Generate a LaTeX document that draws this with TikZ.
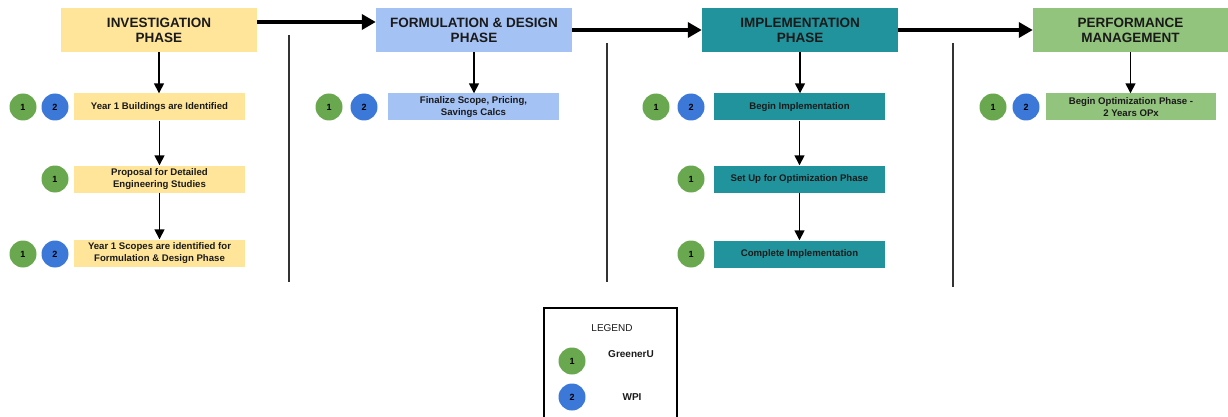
\documentclass[tikz,border=0pt]{standalone}
\usepackage{fontspec}
\setmainfont{Liberation Sans}
\usetikzlibrary{arrows.meta,positioning}
\definecolor{invY}{HTML}{FFE599}
\definecolor{formB}{HTML}{A4C2F4}
\definecolor{implT}{HTML}{20939C}
\definecolor{perfG}{HTML}{93C47D}
\definecolor{greenU}{HTML}{6AA84F}
\definecolor{wpiB}{HTML}{3C78D8}
\definecolor{txt}{HTML}{1A1A1A}
\begin{document}
\begin{tikzpicture}[x=1pt,y=-1pt,every node/.style={text=txt},
phase/.style={minimum width=196pt,minimum height=44pt,inner sep=0pt,align=center,font=\fontsize{13.5}{15}\selectfont\bfseries},
task/.style={minimum width=171pt,minimum height=27pt,inner sep=0pt,align=center,font=\fontsize{9.6}{11.5}\selectfont\bfseries},
badge/.style={circle,minimum size=27pt,inner sep=0pt,text=black,font=\fontsize{9}{9}\selectfont\bfseries},
flow/.style={-{Triangle[length=14pt,width=15pt]},line width=3.5pt},
down/.style={-{Triangle[length=10pt,width=10pt]},line width=1.5pt},
sep/.style={line width=1.6pt,black!80}]
\useasboundingbox (0,0) rectangle (1228,417);
% phase headers
\node[phase,fill=invY] (inv) at (159,30) {INVESTIGATION\\PHASE};
\node[phase,fill=formB] (form) at (474,30) {FORMULATION \& DESIGN\\PHASE};
\node[phase,fill=implT] (impl) at (800,30) {IMPLEMENTATION\\PHASE};
\node[phase,fill=perfG,minimum width=195pt] (perf) at (1130.5,30) {PERFORMANCE\\MANAGEMENT};
\draw[flow] ([yshift=8pt]inv.east) -- ([yshift=8pt]form.west);
\draw[flow] (form.east) -- (impl.west);
\draw[flow] (impl.east) -- (perf.west);
% investigation
\node[task,fill=invY] (bldg) at (159.5,107) {Year 1 Buildings are Identified};
\node[task,fill=invY] (prop) at (159.5,179) {Proposal for Detailed\\Engineering Studies};
\node[task,fill=invY] (scope) at (159.5,253) {Year 1 Scopes are identified for\\Formulation \& Design Phase};
\node[badge,fill=greenU] (bldgG) at (23,107) {1};
\node[badge,fill=wpiB] (bldgW) at (55,107) {2};
\node[badge,fill=greenU] (propG) at (55,179) {1};
\node[badge,fill=greenU] (scopeG) at (23,254) {1};
\node[badge,fill=wpiB] (scopeW) at (55,254) {2};
\draw[down] (inv.south) -- (inv.south |- bldg.north);
\draw[down] (bldg.south) -- (prop.north);
\draw[down] (prop.south) -- (scope.north);
% formulation
\node[task,fill=formB] (calc) at (473.5,107) {Finalize Scope, Pricing,\\Savings Calcs};
\node[badge,fill=greenU] (calcG) at (329,107) {1};
\node[badge,fill=wpiB] (calcW) at (364,107) {2};
\draw[down] (form.south) -- (form.south |- calc.north);
% implementation
\node[task,fill=implT] (begin) at (799.5,107) {Begin Implementation};
\node[task,fill=implT] (setup) at (799.5,179) {Set Up for Optimization Phase};
\node[task,fill=implT] (done) at (799.5,254) {Complete Implementation};
\node[badge,fill=greenU] (beginG) at (656,107) {1};
\node[badge,fill=wpiB] (beginW) at (691,107) {2};
\node[badge,fill=greenU] (setupG) at (691,179) {1};
\node[badge,fill=greenU] (doneG) at (691,254) {1};
\draw[down] (impl.south) -- (impl.south |- begin.north);
\draw[down] (begin.south) -- (setup.north);
\draw[down] (setup.south) -- (done.north);
% performance
\node[task,fill=perfG,minimum width=170pt] (opt) at (1131,107) {Begin Optimization Phase -\\2 Years OPx};
\node[badge,fill=greenU] (optG) at (993,107) {1};
\node[badge,fill=wpiB] (optW) at (1026,107) {2};
\draw[down] (perf.south) -- (perf.south |- opt.north);
% separators
\draw[sep] (289,35) -- (289,282);
\draw[sep] (607,43) -- (607,282);
\draw[sep] (953,43) -- (953,287);
% legend
\draw[line width=1.2pt] (544,417) -- (544,308) -- (677,308) -- (677,417);
\node[font=\fontsize{10}{12}\selectfont] (legend) at (612,328) {LEGEND};
\node[badge,fill=greenU] (keyG) at (572,361) {1};
\node[badge,fill=wpiB] (keyW) at (572,397) {2};
\node[font=\fontsize{10}{12}\selectfont\bfseries] (keyGtxt) at (631,354) {GreenerU};
\node[font=\fontsize{10}{12}\selectfont\bfseries] (keyWtxt) at (632,397) {WPI};
\end{tikzpicture}
\end{document}
